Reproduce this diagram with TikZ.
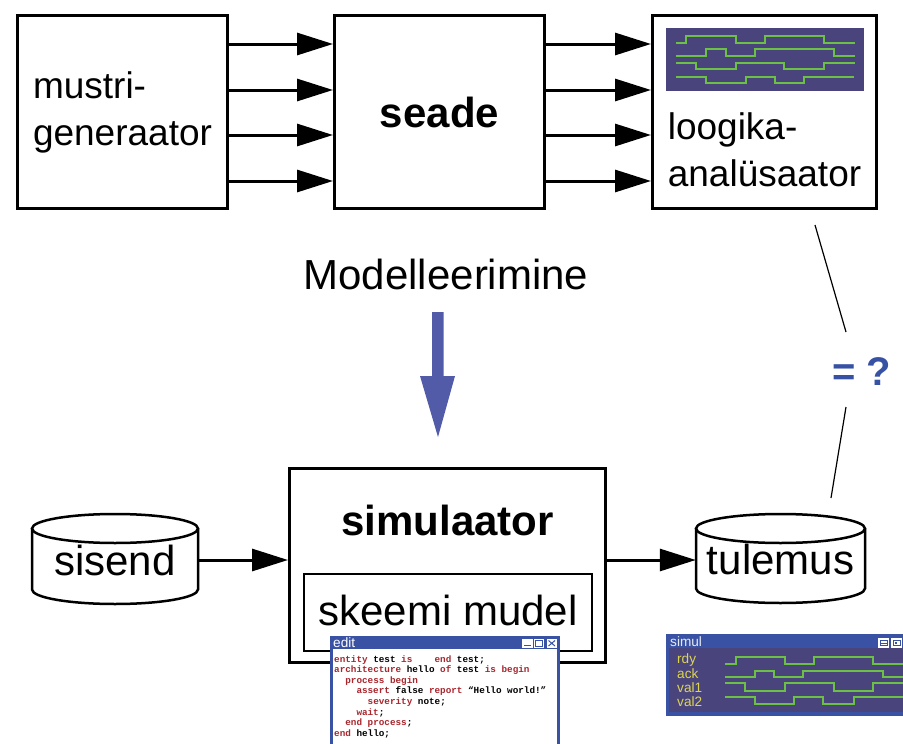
\documentclass[tikz,border=0pt]{standalone}
\usepackage{fontspec}
\setmainfont{Liberation Sans}
\newfontfamily\codefont{Liberation Mono}
\usetikzlibrary{arrows.meta}
\definecolor{winblue}{RGB}{58,82,163}
\definecolor{slate}{RGB}{73,69,124}
\definecolor{wave}{RGB}{108,192,70}
\definecolor{lab}{RGB}{222,212,84}
\definecolor{kw}{RGB}{168,38,45}
\definecolor{bigarrow}{RGB}{81,91,168}
\definecolor{eqblue}{RGB}{55,82,165}
\begin{document}
\begin{tikzpicture}[x=1pt,y=-1pt,
  box/.style={draw, line width=3pt, inner sep=0pt},
  midfont/.style={font=\fontsize{37}{47}\selectfont},
  bigfont/.style={font=\fontsize{42}{48}\selectfont},
  boldfont/.style={font=\fontsize{42}{48}\selectfont\bfseries},
  arr/.style={line width=3pt, -{Triangle[length=36pt,width=22pt]}},
  cyl/.style={line width=2.5pt},
  thin/.style={line width=1.2pt},
  sig/.style={wave, line width=1.7pt},
  lasig/.style={wave, line width=2.1pt},
  code/.style={anchor=base west, inner sep=0pt, font=\codefont\bfseries\fontsize{9.3}{10.6}\selectfont},
  small/.style={inner sep=0pt, anchor=base west, font=\fontsize{13.6}{15}\selectfont}
]
\useasboundingbox (0,0) rectangle (903,744);
\fill[white] (0,0) rectangle (903,744);

% top row
\node[box, minimum width=210pt, minimum height=193pt, align=left, midfont] (mg) at (122.5,112) {mustri-\\generaator};
\node[box, minimum width=210pt, minimum height=193pt, boldfont] (seade) at (439.5,112) {seade};
\node[box, minimum width=224pt, minimum height=193pt] (la) at (764.5,112) {};
\node[align=left, midfont, inner sep=0pt] (latext) at (764.5,149.5) {loogika-\\anal\"usaator};

\foreach \yy in {44,90,135,181}{
  \draw[arr] (mg.east |- 0,\yy) -- (seade.west |- 0,\yy);
  \draw[arr] (seade.east |- 0,\yy) -- (la.west |- 0,\yy);
}

% logic analyser screen
\fill[slate] (666,28) rectangle (864,91);
\draw[lasig] (676,43) -| (686,36) -| (736,43) -| (765,36) -| (824,43) -- (855,43);
\draw[lasig] (676,56) -| (706,49.3) -| (726,56) -| (755,49.3) -| (834,56) -- (855,56);
\draw[lasig] (676,62.7) -| (696,69.3) -| (736,62.7) -| (784,69.3) -| (824,62.7) -- (855,62.7);
\draw[lasig] (676,76.7) -| (706,82.7) -| (746,76.7) -| (775,82.7) -| (804,76.7) -- (854,76.7);

% Modelleerimine
\node[bigfont, anchor=base, inner sep=0pt] (model) at (446,289.5) {Modelleerimine};
\fill[bigarrow] (432,312) -- (443.5,312) -- (443.5,376) -- (455,376) -- (438,437) -- (420,376) -- (432,376) -- cycle;

% = ?
\node[font=\fontsize{40}{44}\selectfont\bfseries, text=eqblue, inner sep=0pt] (eq) at (861.5,372) {= ?};
\coordinate (q1) at (815,225);
\coordinate (q2) at (846,332);
\coordinate (q3) at (846,407);
\coordinate (q4) at (831,498);
\draw[thin] (q1) -- (q2);
\draw[thin] (q3) -- (q4);

% simulator
\node[box, minimum width=316pt, minimum height=194pt] (sim) at (447.5,565.5) {};
\node[boldfont, anchor=base, inner sep=0pt] (simtext) at (447.5,535) {simulaator};
\node[draw, line width=2pt, minimum width=288pt, minimum height=77pt, bigfont] (mudel) at (448,612) {};
\node[bigfont, anchor=base, inner sep=0pt] (mudeltext) at (448,625) {skeemi mudel};

% cylinders
\node[minimum width=166pt, minimum height=90pt, inner sep=0pt] (sisend) at (115,560) {};
\path (sisend.center) ++(0,-31.5) coordinate (st) ++(0,61) coordinate (sb);
\draw[cyl] (st) ellipse [x radius=83pt, y radius=14.5pt];
\draw[cyl] ([xshift=-83pt]st) -- ([xshift=-83pt]sb) arc[start angle=180, end angle=360, x radius=83pt, y radius=14.5pt] -- ([xshift=83pt]st);
\node[bigfont, anchor=base, inner sep=0pt] at (115,575.5) {sisend};

\node[minimum width=169pt, minimum height=90pt, inner sep=0pt] (tulemus) at (780.5,560) {};
\path (tulemus.center) ++(0,-31.5) coordinate (tt) ++(0,60) coordinate (tb);
\draw[cyl] (tt) ellipse [x radius=84.5pt, y radius=14.5pt];
\draw[cyl] ([xshift=-84.5pt]tt) -- ([xshift=-84.5pt]tb) arc[start angle=180, end angle=360, x radius=84.5pt, y radius=14.5pt] -- ([xshift=84.5pt]tt);
\node[bigfont, anchor=base, inner sep=0pt] at (780.5,574.5) {tulemus};

\draw[arr] (sisend.east) -- (sim.west |- sisend.east);
\draw[arr] (sim.east |- tulemus.west) -- (tulemus.west);

% edit window
\fill[winblue] (330,636) rectangle (559.5,744);
\fill[white] (332.5,649) rectangle (557,744);
\node[small, text=white] (edittitle) at (333,647.3) {edit};
\foreach \bx in {522,533.5,546.5}{
  \fill[white] (\bx,638.5) rectangle ++(10.5,9.5);
}
\fill[winblue] (524,644.5) rectangle (530.5,646);
\draw[winblue, line width=1pt] (535.5,640.5) rectangle (542,646);
\draw[winblue, line width=1pt] (548.5,640.5) -- (555,646) (548.5,646) -- (555,640.5);

\node[code] (c1) at (334,662) {\textcolor{kw}{entity} test \textcolor{kw}{is}\ \ \ \ \textcolor{kw}{end} test;};
\node[code] (c2) at (334,672.6) {\textcolor{kw}{architecture} hello \textcolor{kw}{of} test \textcolor{kw}{is} \textcolor{kw}{begin}};
\node[code] (c3) at (345.2,683.2) {\textcolor{kw}{process begin}};
\node[code] (c4) at (356.3,693.8) {\textcolor{kw}{assert} false \textcolor{kw}{report} “Hello world!”};
\node[code] (c5) at (367.5,704.4) {\textcolor{kw}{severity} note;};
\node[code] (c6) at (356.3,715) {\textcolor{kw}{wait};};
\node[code] (c7) at (345.2,725.6) {\textcolor{kw}{end process};};
\node[code] (c8) at (334,736.2) {\textcolor{kw}{end} hello;};

% simul window
\fill[winblue] (666,634) rectangle (903,716);
\fill[slate] (669,648) rectangle (903,712);
\node[small, text=white!88!winblue] (simtitle) at (670,646.7) {simul};
\fill[white] (878,637.7) rectangle (889,647.7);
\fill[white] (891,637.7) rectangle (902,647.7);
\draw[winblue, line width=1pt] (880,640) rectangle (887,645.5) (880,643.5) -- (887,643.5);
\draw[winblue, line width=1pt] (893,640) rectangle (900,645.5);
\fill[winblue] (895,642) rectangle (897,644);

\node[small, text=lab] (rdy) at (677,663.5) {rdy};
\node[small, text=lab] (ack) at (677,678) {ack};
\node[small, text=lab] (val1) at (677,692) {val1};
\node[small, text=lab] (val2) at (677,706.5) {val2};

\draw[sig] (725,664) -| (736,656.7) -| (785,664) -| (814,656.7) -| (873,664) -- (903,664);
\draw[sig] (725,676.7) -| (755,670.7) -| (774,676.7) -| (803,670.7) -| (883,676.7) -- (903,676.7);
\draw[sig] (725,683.3) -| (745,690.7) -| (785,683.3) -| (834,690.7) -| (873,683.3) -- (903,683.3);
\draw[sig] (725,697.3) -| (755,704) -| (794,697.3) -| (823,704) -| (854,697.3) -- (903,697.3);
\end{tikzpicture}
\end{document}
